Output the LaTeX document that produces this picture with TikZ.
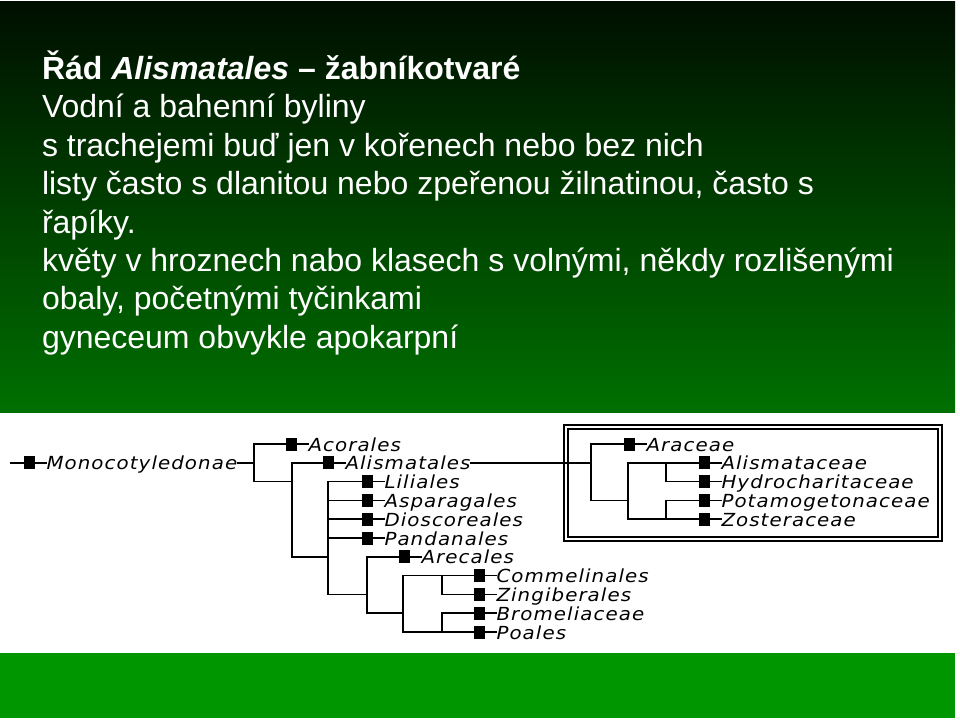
\documentclass[tikz,border=0pt]{standalone}
\usepackage{fontspec}
\setmainfont{Liberation Sans}
\newfontfamily\treefont[LetterSpace=6,FakeStretch=1.1]{DejaVu Sans}
\usetikzlibrary{positioning}
\definecolor{topdark}{RGB}{0,14,0}
\definecolor{topgreen}{RGB}{0,112,0}
\definecolor{bandgreen}{RGB}{0,150,0}
\tikzset{
    every node/.style={inner sep=0pt, outer sep=0pt},
    branch/.style={line width=1.6pt},
    sq/.style={fill=black, minimum width=11pt, minimum height=13pt},
    taxon/.style={anchor=west, text height=14pt, text depth=0pt, font=\treefont\itshape\fontsize{18}{18}\selectfont},
    slide/.style={anchor=base west, text=white, font=\fontsize{32}{38.4}\selectfont}
}

\begin{document}
\begin{tikzpicture}[x=1pt, y=-1pt]
        \useasboundingbox (0,0) rectangle (960,720);
        % background
        \fill[white] (0,0) rectangle (960,720);
        \shade[top color=topdark, bottom color=topgreen] (0,1) rectangle (955,412);
        \fill[bandgreen] (0,653) rectangle (955,718);
        % slide text
        \node[slide] (l1) at (42,79.5) {\textbf{Řád \textit{Alismatales} – žabníkotvaré}};
        \node[slide] (l2) at (42,117.9) {Vodní a bahenní byliny};
        \node[slide] (l3) at (42,156.3) {s trachejemi buď jen v kořenech nebo bez nich};
        \node[slide] (l4) at (42,194.7) {listy často s dlanitou nebo zpeřenou žilnatinou, často s};
        \node[slide] (l5) at (42,233.1) {řapíky.};
        \node[slide] (l6) at (42,271.5) {květy v hroznech nabo klasech s volnými, někdy rozlišenými};
        \node[slide] (l7) at (42,309.9) {obaly, početnými tyčinkami};
        \node[slide] (l8) at (42,348.3) {gyneceum obvykle apokarpní};
        % squares
        \node[sq] (sMon) at (29,462.8) {};
        \node[sq] (sAco) at (291,444) {};
        \node[sq] (sAli) at (328,462.8) {};
        \node[sq] (sLil) at (367,481.6) {};
        \node[sq] (sAsp) at (367,500.4) {};
        \node[sq] (sDio) at (367,519.2) {};
        \node[sq] (sPan) at (367,538) {};
        \node[sq] (sAre) at (404,556.8) {};
        \node[sq] (sCom) at (479,575.6) {};
        \node[sq] (sZin) at (479,594.4) {};
        \node[sq] (sBro) at (479,613.2) {};
        \node[sq] (sPoa) at (479,632) {};
        \node[sq] (sArc) at (629,444) {};
        \node[sq] (sAlc) at (704,462.8) {};
        \node[sq] (sHyd) at (704,481.6) {};
        \node[sq] (sPot) at (704,500.4) {};
        \node[sq] (sZos) at (704,519.2) {};
        % labels
        \node[taxon, right=12pt of sMon] (tMon) {Monocotyledonae};
        \node[taxon, right=12pt of sAco] (tAco) {Acorales};
        \node[taxon, right=12pt of sAli] (tAli) {Alismatales};
        \node[taxon, right=12pt of sLil] (tLil) {Liliales};
        \node[taxon, right=12pt of sAsp] (tAsp) {Asparagales};
        \node[taxon, right=12pt of sDio] (tDio) {Dioscoreales};
        \node[taxon, right=12pt of sPan] (tPan) {Pandanales};
        \node[taxon, right=12pt of sAre] (tAre) {Arecales};
        \node[taxon, right=12pt of sCom] (tCom) {Commelinales};
        \node[taxon, right=12pt of sZin] (tZin) {Zingiberales};
        \node[taxon, right=12pt of sBro] (tBro) {Bromeliaceae};
        \node[taxon, right=12pt of sPoa] (tPoa) {Poales};
        \node[taxon, right=12pt of sArc] (tArc) {Araceae};
        \node[taxon, right=12pt of sAlc] (tAlc) {Alismataceae};
        \node[taxon, right=12pt of sHyd] (tHyd) {Hydrocharitaceae};
        \node[taxon, right=12pt of sPot] (tPot) {Potamogetonaceae};
        \node[taxon, right=12pt of sZos] (tZos) {Zosteraceae};
        % branch points
        \coordinate (root) at (10,462.8);
        \coordinate (n1) at (254,462.8);
        \coordinate (n2) at (292,481.6);
        \coordinate (n3) at (328,556.8);
        \coordinate (n4) at (367,594.4);
        \coordinate (n5) at (403,613.2);
        \coordinate (n6) at (442,575.6);
        \coordinate (n7) at (442,632);
        \coordinate (n8) at (591,462.8);
        \coordinate (n9) at (628,500.4);
        \coordinate (n10) at (666,462.8);
        \coordinate (n11) at (666,519.2);
        % tree
        \draw[branch] (root) -- (sMon);
        \foreach \s in {Mon,Aco,Ali,Lil,Asp,Dio,Pan,Are,Com,Zin,Bro,Poa,Arc,Alc,Hyd,Pot,Zos}
                \draw[branch] (s\s) -- (t\s);
        \draw[branch] (tMon) -- (n1);
        \draw[branch] (sAco) -| (n1) |- (n2);
        \draw[branch] (sAli) -| (n2) |- (n3);
        \draw[branch] (sLil) -| (n3) |- (n4);
        \foreach \s in {Asp,Dio,Pan}
                \draw[branch] (s\s) -- (s\s -| n3);
        \draw[branch] (sAre) -| (n4) |- (n5);
        \draw[branch] (sCom) -| (n5) |- (sPoa);
        \draw[branch] (n6) |- (sZin);
        \draw[branch] (n7) |- (sBro);
        \draw[branch] (tAli) -- (n8);
        \draw[branch] (sArc) -| (n8) |- (n9);
        \draw[branch] (sAlc) -| (n9) |- (sZos);
        \draw[branch] (n10) |- (sHyd);
        \draw[branch] (n11) |- (sPot);
        % frame
        \draw[line width=1.5pt] (564,425) rectangle (942,541);
        \draw[line width=1.5pt] (568,429) rectangle (938,537);
\end{tikzpicture}
\end{document}
